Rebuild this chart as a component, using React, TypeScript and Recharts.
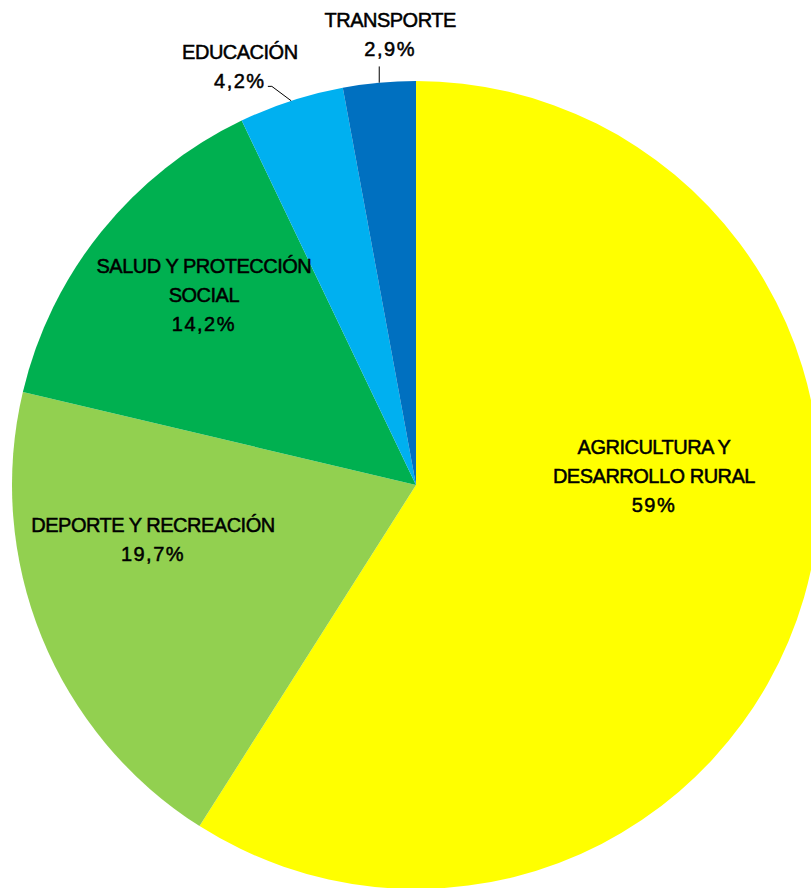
import React from "react";
import { PieChart, Pie, Cell } from "recharts";

const categories = [
  "AGRICULTURA Y DESARROLLO RURAL",
  "DEPORTE Y RECREACIÓN",
  "SALUD Y PROTECCIÓN SOCIAL",
  "EDUCACIÓN",
  "TRANSPORTE",
];
const values = [59, 19.7, 14.2, 4.2, 2.9];
const valueLabels = ["59%", "19,7%", "14,2%", "4,2%", "2,9%"];
const labelLines = [
  ["AGRICULTURA Y", "DESARROLLO RURAL"],
  ["DEPORTE Y RECREACIÓN"],
  ["SALUD Y PROTECCIÓN", "SOCIAL"],
  ["EDUCACIÓN"],
  ["TRANSPORTE"],
];
const colors = ["#FFFF00", "#92D050", "#00B050", "#00B0F0", "#0070C0"];

// label block centers, as fractions of the radius from the pie centre
const labelLayout = [
  { dx: 0.589, dy: -0.022, leader: false },
  { dx: -0.651, dy: 0.136, leader: false },
  { dx: -0.525, dy: -0.47, leader: false },
  { dx: -0.436, dy: -1.035, leader: true },
  { dx: -0.064, dy: -1.114, leader: true },
];

const data = categories.map((name, i) => ({ name, value: values[i] }));

const CX = 416;
const CY = 485;
const R = 404;
const LINE_H = 29;
const RAD = Math.PI / 180;

const renderLabel = (props: any) => {
  const { index, midAngle } = props;
  const cx = typeof props.cx === "number" ? props.cx : CX;
  const cy = typeof props.cy === "number" ? props.cy : CY;
  const r = typeof props.outerRadius === "number" ? props.outerRadius : R;
  const lay = labelLayout[index];
  const lines = [...labelLines[index], valueLabels[index]];
  const bx = cx + lay.dx * r;
  const by = cy + lay.dy * r;
  const top = by - ((lines.length - 1) * LINE_H) / 2;
  const ax = cx + r * Math.cos(-midAngle * RAD);
  const ay = cy + r * Math.sin(-midAngle * RAD);
  const lastY = top + (lines.length - 1) * LINE_H;
  let leader = null;
  if (lay.leader) {
    if (index === 3) {
      const ex = bx + 32;
      const ey = lastY + 5;
      leader = (
        <polyline
          points={`${ax},${ay} ${ex},${ey} ${ex - 4},${ey}`}
          fill="none"
          stroke="#000"
          strokeWidth={1}
        />
      );
    } else {
      leader = (
        <line x1={ax} y1={ay} x2={ax} y2={lastY + 17} stroke="#000" strokeWidth={1} />
      );
    }
  }
  return (
    <g>
      {leader}
      {lines.map((t, k) => {
        const isValue = k === lines.length - 1;
        return (
          <text
            key={k}
            x={bx}
            y={top + k * LINE_H}
            textAnchor="middle"
            dominantBaseline="central"
            fontFamily="'Liberation Sans', Arial, sans-serif"
            fontSize={20}
            letterSpacing={isValue ? 1.5 : -0.5}
            fill="#000"
            stroke="#000"
            strokeWidth={0.5}
          >
            {t}
          </text>
        );
      })}
    </g>
  );
};

export default function App() {
  return (
    <div style={{ position: "fixed", left: 0, top: 0, width: 811, height: 888, background: "#fff" }}>
      <PieChart width={811} height={888} margin={{ top: 0, right: 0, bottom: 0, left: 0 }}>
        <Pie
          data={data}
          dataKey="value"
          nameKey="name"
          cx={CX}
          cy={CY}
          outerRadius={R}
          startAngle={90}
          endAngle={-270}
          stroke="none"
          labelLine={false}
          label={renderLabel}
          isAnimationActive={false}
        >
          {data.map((d, i) => (
            <Cell key={d.name} fill={colors[i]} />
          ))}
        </Pie>
      </PieChart>
    </div>
  );
}
